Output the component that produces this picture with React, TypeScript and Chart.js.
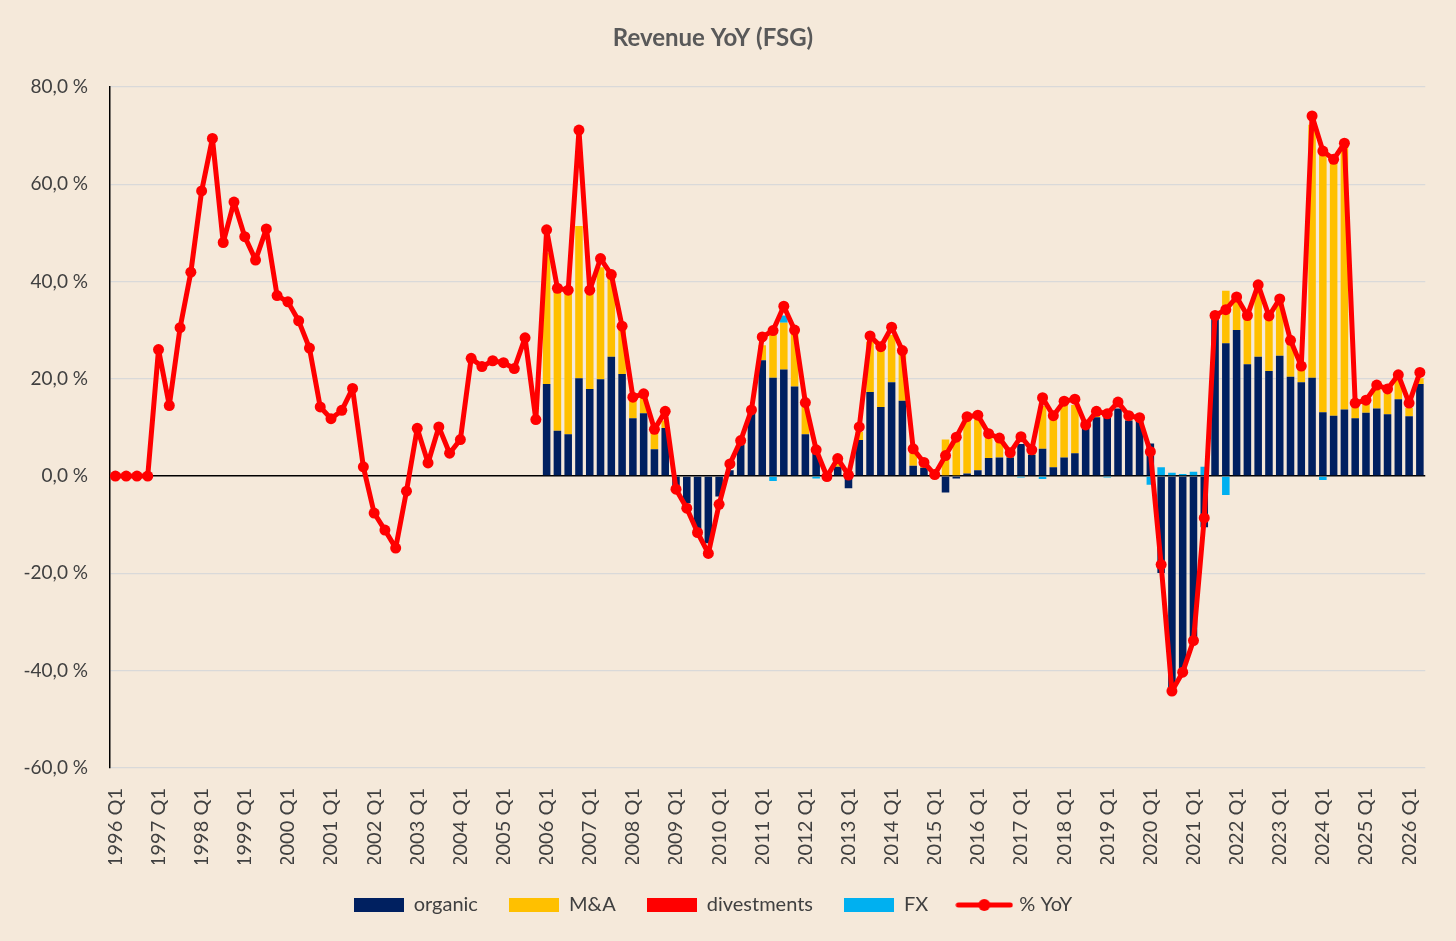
import React, { useEffect, useRef } from "react";
import { Chart, registerables } from "chart.js";

Chart.register(...registerables);

const BG = "#F5E9DA";
const TEXT = "#404040";
const FONT = "Lato, 'Open Sans', sans-serif";

// quarters 1996 Q1 .. 2026 Q2
const firstYear = 1996;
const quarterCount = 122;
const quarters: string[] = [];
for (let i = 0; i < quarterCount; i++) {
  quarters.push(`${firstYear + Math.floor(i / 4)} Q${(i % 4) + 1}`);
}

// % YoY line, one value per quarter
const yoy = [
  0, 0, 0, 0, 26.0, 14.5, 30.5, 41.9, 58.6, 69.4, 48.0, 56.3,
  49.2, 44.4, 50.8, 37.1, 35.8, 31.9, 26.3, 14.2, 11.8, 13.5, 18.0, 1.9,
  -7.6, -11.1, -14.8, -3.1, 9.8, 2.7, 10.1, 4.7, 7.5, 24.2, 22.5, 23.7,
  23.3, 22.1, 28.4, 11.6, 50.6, 38.6, 38.2, 71.1, 38.2, 44.7, 41.4, 30.8,
  16.2, 16.9, 9.6, 13.3, -2.7, -6.6, -11.6, -15.9, -5.8, 2.5, 7.3, 13.6,
  28.6, 29.9, 34.9, 30.0, 15.1, 5.4, -0.1, 3.6, 0.2, 10.1, 28.8, 26.6,
  30.6, 25.8, 5.6, 2.8, 0.3, 4.2, 8.0, 12.2, 12.5, 8.7, 7.8, 4.8,
  8.1, 5.4, 16.1, 12.4, 15.4, 15.8, 10.5, 13.3, 12.8, 15.2, 12.4, 12.0,
  5.0, -18.2, -44.2, -40.3, -33.8, -8.6, 33.0, 34.2, 36.8, 33.0, 39.3, 32.9,
  36.4, 27.9, 22.6, 74.0, 66.8, 65.1, 68.4, 15.0, 15.6, 18.7, 17.9, 20.8,
  15.0, 21.3,
];

// bar components start in 2006 Q1
const barStart = 40;

const organic = [
  18.9, 9.3, 8.6, 20.1, 17.9, 19.9, 24.5, 21.0, 11.9, 12.9, 5.5, 9.9,
  -3.0, -5.6, -11.1, -13.8, -4.2, 1.2, 6.4, 12.9,
  23.8, 20.2, 21.9, 18.4, 8.6, 4.7, 0.4, 1.9,
  -2.5, 7.4, 17.3, 14.2, 19.3, 15.5, 2.1, 1.7,
  0.3, -3.4, -0.5, 0.5, 1.2, 3.7, 3.8, 3.8,
  6.6, 4.4, 5.6, 1.8, 3.8, 4.7, 9.8, 12.1,
  12.0, 13.9, 11.4, 11.2, 6.7, -19.9, -43.5, -39.9,
  -33.7, -10.5, 32.8, 27.3, 30.0, 23.0, 24.5, 21.6,
  24.7, 20.4, 19.3, 20.2, 13.1, 12.4, 13.7, 11.9,
  13.0, 13.9, 12.7, 15.8, 12.3, 18.9,
];

const mna = [
  27, 29, 29.5, 31.3, 20, 23, 16.5, 9.5, 4, 3.5, 4, 1.5,
  0, 0, 0, 0, 0, 0, 0.5, 0.5,
  3.1, 8.8, 9.6, 10.9, 5.6, 0.5, 0, 0.8,
  1.0, 1.7, 10.3, 11.7, 9.7, 9.5, 2.7, 1.0,
  0, 7.5, 7.5, 11, 10.5, 4.4, 3.4, 0.8,
  0, 0.8, 8.8, 9.8, 10.9, 9.9, 0.5, 0.6,
  0, 0, 0.5, 0.5, 0, 0, 0, 0,
  0, 0, 0, 10.8, 6.8, 10, 14.8, 11.3,
  11.7, 7.5, 3.3, 52, 53, 52.5, 54.5, 2.4,
  2.4, 4.5, 4.3, 4.2, 1.7, 1.2,
];

// no divestment bars are visible in the picture
const divestments: number[] = [];

const fx = [
  0, 0, 0, 0, 0, 0, 0, 0, 0, 0, 0, 0,
  0, 0, 0, 0, 0, 0, 0, 0,
  0, -1.0, 1.5, 0, 0, -0.5, 0, 0,
  0, 0, 0, 0, 0, 0, 0, 0,
  0, 0, 0, 0, 0, 0, 0, 0,
  -0.3, 0, -0.6, 0, 0, 0, 0, 0,
  -0.3, 0, 0, 0, -1.8, 1.8, 0.7, 0.4,
  0.9, 1.9, 0, -3.9, 0, 0, 0, 0,
  0, 0, 0, 0, -0.8, 0, 0, 0,
  0, 0, 0, 0, 0, 0,
];

const pad = (vals: number[]) => {
  const out: (number | null)[] = [];
  for (let i = 0; i < quarterCount; i++) {
    out.push(i >= barStart && i - barStart < vals.length ? vals[i - barStart] : null);
  }
  return out;
};

const boxMarker = (color: string) => {
  const c = document.createElement("canvas");
  c.width = 50;
  c.height = 14;
  const g = c.getContext("2d")!;
  g.fillStyle = color;
  g.fillRect(0, 0, 50, 14);
  return c;
};

const lineMarker = (color: string) => {
  const c = document.createElement("canvas");
  c.width = 58;
  c.height = 14;
  const g = c.getContext("2d")!;
  g.strokeStyle = color;
  g.fillStyle = color;
  g.lineWidth = 5;
  g.lineCap = "round";
  g.beginPath();
  g.moveTo(3, 7);
  g.lineTo(55, 7);
  g.stroke();
  g.beginPath();
  g.arc(29, 7, 6, 0, Math.PI * 2);
  g.fill();
  return c;
};

const App: React.FC = () => {
  const canvasRef = useRef<HTMLCanvasElement | null>(null);
  const chartRef = useRef<Chart | null>(null);

  useEffect(() => {
    document.body.style.margin = "0";
    document.body.style.background = BG;
    if (!canvasRef.current) return;
    const ctx = canvasRef.current.getContext("2d");
    if (!ctx) return;
    if (chartRef.current) chartRef.current.destroy();

    const markers = [
      boxMarker("#002060"),
      boxMarker("#FFC000"),
      boxMarker("#FF0000"),
      boxMarker("#00B0F0"),
      lineMarker("#FF0000"),
    ];

    const barCommon = {
      type: "bar" as const,
      order: 1,
      barPercentage: 0.7,
      categoryPercentage: 1,
    };

    chartRef.current = new Chart(ctx, {
      type: "bar",
      data: {
        labels: quarters,
        datasets: [
          { ...barCommon, label: "organic", data: pad(organic), backgroundColor: "#002060" },
          { ...barCommon, label: "M&A", data: pad(mna), backgroundColor: "#FFC000" },
          { ...barCommon, label: "divestments", data: pad(divestments), backgroundColor: "#FF0000" },
          { ...barCommon, label: "FX", data: pad(fx), backgroundColor: "#00B0F0" },
          {
            type: "line",
            label: "% YoY",
            data: yoy,
            order: 0,
            borderColor: "#FF0000",
            backgroundColor: "#FF0000",
            borderWidth: 5,
            borderJoinStyle: "round",
            borderCapStyle: "round",
            pointRadius: 5.5,
            pointBorderWidth: 0,
            pointBackgroundColor: "#FF0000",
            tension: 0,
          } as any,
        ],
      },
      options: {
        responsive: true,
        maintainAspectRatio: false,
        animation: false,
        layout: { padding: { left: 0, right: 30, top: 0, bottom: 16 } },
        plugins: {
          tooltip: { enabled: false },
          title: {
            display: true,
            text: "Revenue YoY (FSG)",
            color: "#595959",
            font: { family: FONT, size: 24, weight: "bold" },
            padding: { top: 24, bottom: 34 },
          },
          legend: {
            position: "bottom",
            labels: {
              usePointStyle: true,
              pointStyleWidth: 50,
              boxHeight: 14,
              padding: 31,
              color: TEXT,
              font: { family: FONT, size: 20 },
              sort: (a, b) => (a.datasetIndex ?? 0) - (b.datasetIndex ?? 0),
              generateLabels: (chart) =>
                Chart.defaults.plugins.legend.labels
                  .generateLabels(chart)
                  .map((it) => ({ ...it, pointStyle: markers[it.datasetIndex ?? 0] as any })),
            },
          },
        },
        scales: {
          x: {
            stacked: true,
            grid: { display: false },
            border: { display: false },
            ticks: {
              autoSkip: false,
              maxRotation: 90,
              minRotation: 90,
              padding: 12,
              color: TEXT,
              font: { family: FONT, size: 20 },
              callback: (_v, i) => (i % 4 === 0 ? quarters[i] : ""),
            },
            afterFit: (s) => {
              s.height = 96;
            },
          },
          y: {
            stacked: true,
            min: -60,
            max: 80,
            ticks: {
              stepSize: 20,
              padding: 22,
              color: TEXT,
              font: { family: FONT, size: 19 },
              callback: (v) => `${Number(v).toFixed(1).replace(".", ",")} %`,
            },
            grid: {
              drawTicks: false,
              color: (c) => (c.tick && c.tick.value === 0 ? "#000000" : "#D9D9D9"),
              lineWidth: (c) => (c.tick && c.tick.value === 0 ? 1.5 : 1.2),
            },
            border: { display: true, color: "#000000", width: 1.5 },
            afterFit: (s) => {
              s.width = 110;
            },
          },
        },
      },
    });

    return () => {
      if (chartRef.current) {
        chartRef.current.destroy();
        chartRef.current = null;
      }
    };
  }, []);

  return (
    <div style={{ width: 1456, height: 941, background: BG }}>
      <canvas ref={canvasRef} />
    </div>
  );
};

export default App;
